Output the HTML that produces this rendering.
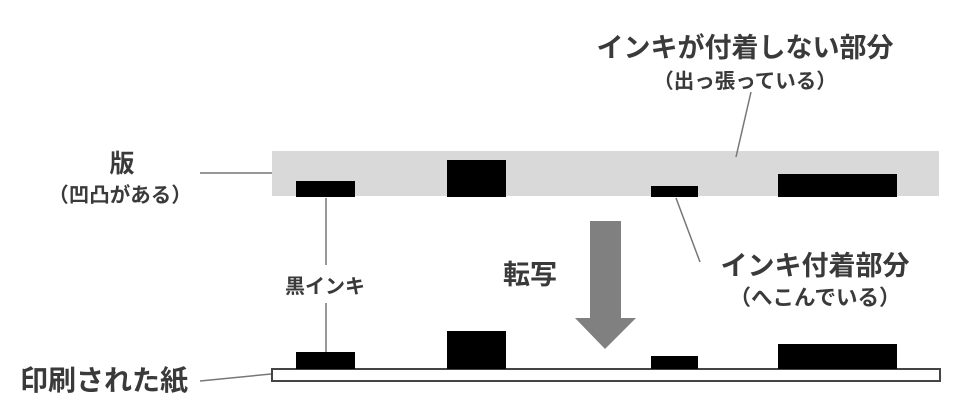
<!DOCTYPE html>
<html><head><meta charset="utf-8"><style>
html,body{margin:0;padding:0;background:#fff;}
svg{display:block;}
text{font-family:"Noto Sans CJK JP","Liberation Sans",sans-serif;fill:#3a3a3a;font-weight:bold;}
</style></head><body>
<svg width="960" height="420" viewBox="0 0 960 420" xmlns="http://www.w3.org/2000/svg">
<rect x="272" y="151" width="667" height="45" fill="#d9d9d9"/>
<rect x="296" y="181" width="59" height="16" fill="#000"/>
<rect x="447" y="160" width="59" height="37" fill="#000"/>
<rect x="651" y="186" width="47" height="11" fill="#000"/>
<rect x="778" y="174" width="119" height="23" fill="#000"/>
<rect x="272" y="369" width="668" height="12" fill="#fff" stroke="#444" stroke-width="2"/>
<rect x="296" y="352" width="59" height="17" fill="#000"/>
<rect x="447" y="331" width="59" height="38" fill="#000"/>
<rect x="651" y="356" width="47" height="13" fill="#000"/>
<rect x="778" y="344" width="119" height="25" fill="#000"/>
<g stroke="#777" stroke-width="1.5" fill="none">
<line x1="200" y1="173" x2="272" y2="173"/>
<line x1="326" y1="198" x2="326" y2="265"/>
<line x1="326" y1="303" x2="326" y2="352"/>
<line x1="751" y1="92" x2="736" y2="157"/>
<line x1="676" y1="198" x2="700" y2="262"/>
<line x1="200" y1="381" x2="271" y2="374"/>
</g>
<rect x="590" y="221" width="31" height="98" fill="#808080"/>
<polygon points="575,318 636,318 605,349" fill="#808080"/>
<text x="745" y="57" font-size="27" text-anchor="middle">インキが付着しない部分</text>
<text x="745" y="88" font-size="20.5" text-anchor="middle">（出っ張っている）</text>
<text x="122" y="172" font-size="25" text-anchor="middle">版</text>
<text x="120" y="202" font-size="20.5" text-anchor="middle">（凹凸がある）</text>
<text x="325" y="293" font-size="20" text-anchor="middle">黒インキ</text>
<text x="530" y="284" font-size="27" text-anchor="middle">転写</text>
<text x="815" y="275" font-size="27" text-anchor="middle">インキ付着部分</text>
<text x="815" y="305" font-size="21.5" text-anchor="middle">（へこんでいる）</text>
<text x="20" y="390" font-size="28">印刷された紙</text>
</svg>
</body></html>
